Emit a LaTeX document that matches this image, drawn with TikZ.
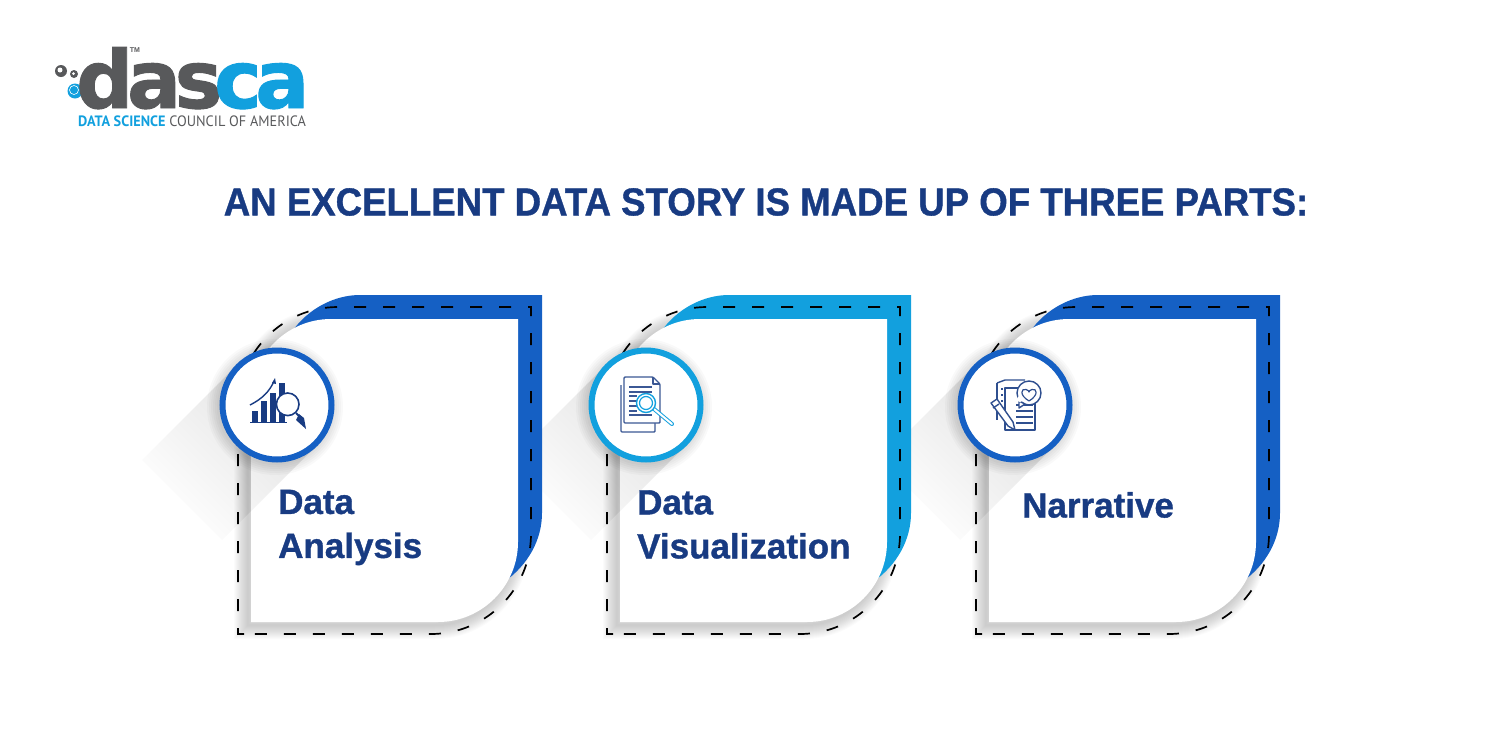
\documentclass[tikz,border=0pt]{standalone}
\usepackage{fontspec}
\setmainfont{Liberation Sans}
\newfontfamily\logofont[FakeBold=1.2,LetterSpace=-8]{DejaVu Sans Bold}
\newfontfamily\subfont[FakeStretch=.95]{PT Sans}
\newfontfamily\headfont[FakeBold=1,FakeStretch=.939]{Liberation Sans Bold}
\newfontfamily\cardfont[FakeBold=1]{Liberation Sans Bold}
\definecolor{inkblue}{HTML}{183B82}
\definecolor{ringblue}{HTML}{1560C4}
\definecolor{ringcyan}{HTML}{12A0DE}
\definecolor{logogray}{HTML}{58595B}
\tikzset{
    heading/.style={font=\headfont\fontsize{39}{44}\selectfont,text=inkblue,inner sep=0pt},
    cardtext/.style={font=\cardfont\fontsize{35}{44}\selectfont,text=inkblue,anchor=west,align=left,inner sep=0pt},
    ring/.style={circle,fill=white,line width=6pt,minimum size=109pt,inner sep=0pt},
    stitch/.style={black,line width=1.7pt,dash pattern=on 12pt off 17pt},
    icon/.style={line width=1.4pt,line join=round},
}
\begin{document}
\begin{tikzpicture}[x=1pt,y=-1pt]
    \useasboundingbox (0,0) rectangle (1500,750);
    \def\cardpath{(251,622) -- (251,399) .. controls (251,355) and (287,319) .. (331,319) -- (518,319) -- (518,542) .. controls (518,586) and (482,622) .. (438,622) -- cycle}
    \def\backpath{(291,333) .. controls (308,308) and (335,295) .. (360,295) -- (542,295) -- (542,513) .. controls (542,540) and (528,565) .. (504,582) -- cycle}
    \def\stitchpath{(244,634) -- (238,634) -- (238,407) .. controls (238,352) and (283,307) .. (338,307) -- (531,307) -- (531,534) .. controls (531,589) and (486,634) .. (431,634) -- (244,634)}
    \node[heading] (title) at (766,202) {AN EXCELLENT DATA STORY IS MADE UP OF THREE PARTS:};
    % cards
    \foreach \dx/\col/\nm in {738/ringblue/c,369/ringcyan/b,0/ringblue/a}{
        \begin{scope}[shift={(\dx,0)}]
            \shade [top color=black!12,bottom color=white,shading angle=-45] (237,365) -- (317,445) -- (222,540) -- (142,460) -- cycle;
            \foreach \w in {2,4,...,28}
                \draw [black,opacity=.014,line width=\w pt,shift={(-3,3)}]\cardpath ;
            \fill [\col]\backpath ;
            \fill [white]\cardpath ;
            \begin{scope}
                \clip \cardpath ;
                \shade [top color=black!12,bottom color=white,shading angle=-45] (237,365) -- (317,445) -- (222,540) -- (142,460) -- cycle;
            \end{scope}
            \draw [stitch]\stitchpath ;
            \foreach \w in {58,60,...,68}
                \fill [black,opacity=.025] (275,407) circle (\w pt);
            \node[ring,draw=\col] (ring\nm) at (277,405) {};
        \end{scope}
    }
    \node[cardtext] (dataanalysis) at (278,527.5) {Data\\Analysis};
    \node[cardtext] (datavis) at (637,524.5) {Data\\Visualization};
    \node[cardtext] (narrative) at (1022,505) {Narrative};
    % analysis icon
    \begin{scope}[shift={(ringa.center)},icon,inkblue]
        \draw (-27,17.5) -- (10,17.5);
        \fill (-25,17) rectangle (-19,6);
        \fill (-16,17) rectangle (-10,-4);
        \fill (-7,17) rectangle (-1,-12);
        \fill (2,17) rectangle (8,-22);
        \draw (-27,0) .. controls (-15,-6) and (-7,-14) .. (-3,-24);
        \fill (-5,-22) -- (-1,-21) -- (-2,-27) -- cycle;
        \draw [fill=white,line width=1.6pt] (10.7,-.7) circle (11.3pt);
        \draw [line width=2pt] (19,8) -- (22,11);
        \fill (22,9) -- (27,13) -- (29,24) -- (19,15) -- cycle;
    \end{scope}
    % visualization icon
    \begin{scope}[shift={(ringb.center)},icon,inkblue!85!white]
        \draw [rounded corners=1pt] (-25,-20) -- (-25,27) -- (9,27) -- (9,18);
        \draw [fill=white,rounded corners=1pt] (-22,-28) -- (7,-28) -- (14,-21) -- (14,18) -- (-22,18) -- cycle;
        \draw (7,-28) -- (7,-21) -- (14,-21);
        \foreach \y in {-18,-13,10}
            \draw (-17,\y) -- (6,\y);
        \foreach \y in {-9,-4,1,6}
            \draw (-17,\y) -- (-9,\y);
        \draw [ringcyan,line width=4pt,line cap=round] (8,4) -- (26,19);
        \draw [white,line width=2pt,line cap=round] (8,4) -- (26,19);
        \draw [ringcyan,fill=white] (0,-2) circle (9.5pt);
        \draw [ringcyan,line width=1.2pt] (0,-2) circle (6.5pt);
    \end{scope}
    % narrative icon
    \begin{scope}[shift={(ringc.center)},icon,inkblue!90!white]
        \draw (-18,-22) -- (-18,15);
        \draw (-18,-22) -- (-10,-25) -- (10,-25);
        \draw [fill=white] (-10,-17) -- (20,-17) -- (20,25) -- (-10,25) -- cycle;
        \foreach \y in {0,6,12,18}
            \draw (1,\y) -- (18,\y);
        \foreach \y in {-16,-10,-4,2,8}
            \draw (-14,\y) -- (-12,\y);
        \draw [fill=white] (14,-12) circle (12pt);
        \draw [fill=white] (4,-4) -- (4,3) -- (10,-1) -- cycle;
        \fill [white] (5,-6) circle (3pt);
        \draw [line width=1.2pt] (14,-4) .. controls (4,-10) and (6,-17) .. (11,-15.5) .. controls (13,-15) and (14,-14) .. (14,-13) .. controls (14,-14) and (15,-15) .. (17,-15.5) .. controls (22,-17) and (24,-10) .. (14,-4) -- cycle;
        \draw [fill=white] (-24,-2) -- (-18,-6) -- (-2,17) -- (0,25) -- (-7,21) -- cycle;
        \draw (-22,3) -- (-16,-1);
    \end{scope}
    % logo
    \fill [logogray] (61,71) circle (6pt);
    \fill [white] (60,70) circle (2.5pt);
    \fill [logogray] (74,74) circle (4pt);
    \fill [white] (73.5,73.5) circle (1.5pt);
    \fill [ringcyan] (75,91) circle (7.5pt);
    \draw [white,line width=.6pt] (74,90) circle (4.5pt);
    \node[font=\logofont\fontsize{80}{80}\selectfont,text=logogray,anchor=base west,inner sep=0pt] (logodas) at (76,108) {das};
    \node[font=\logofont\fontsize{80}{80}\selectfont,text=ringcyan,anchor=base west,inner sep=0pt] (logoca) at (214,108) {ca};
    \node[font=\bfseries\fontsize{7}{7}\selectfont,text=logogray,inner sep=0pt] (logotm) at (135,50) {TM};
    \node[font=\subfont\fontsize{15}{15}\selectfont,anchor=base west,inner sep=0pt] (logosub) at (78,126.5) {\textcolor{ringcyan}{\textbf{DATA SCIENCE}} \textcolor{logogray}{COUNCIL OF AMERICA}};
\end{tikzpicture}
\end{document}
